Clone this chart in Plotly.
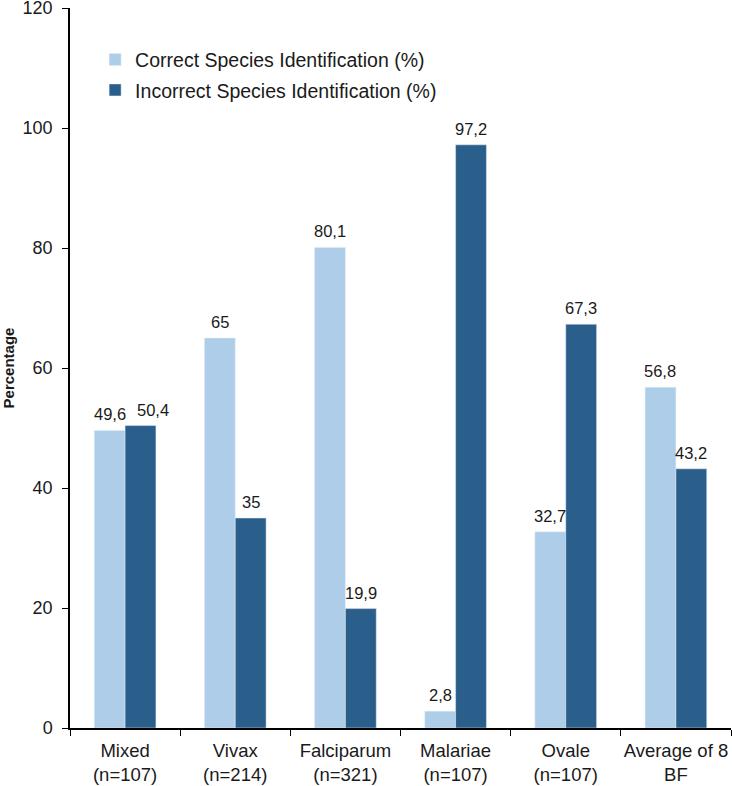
import plotly.graph_objects as go

# data
categories = ['Mixed<br>(n=107)', 'Vivax<br>(n=214)', 'Falciparum<br>(n=321)',
              'Malariae<br>(n=107)', 'Ovale<br>(n=107)', 'Average of 8<br>BF']
correct = [49.6, 65, 80.1, 2.8, 32.7, 56.8]
incorrect = [50.4, 35, 19.9, 97.2, 67.3, 43.2]
y_ticks = [0, 20, 40, 60, 80, 100, 120]


def comma_label(v):
    # decimal comma like the original
    return ('%g' % v).replace('.', ',')


font_family = 'Arial, Liberation Sans, sans-serif'
W, H = 732, 786
ML, MR, MT, MB = 70, 1, 8, 58
BARGAP = 0.44
bar_px = (W - ML - MR) / len(categories) * (1 - BARGAP) / 2

fig = go.Figure()
fig.add_trace(go.Bar(x=categories, y=correct, name='Correct Species Identification (%)',
                     legendgroup='a', marker_color='#aecde9'))
fig.add_trace(go.Bar(x=categories, y=incorrect, name='Incorrect Species Identification (%)',
                     legendgroup='b', marker_color='#2a5f8b'))

# value labels above the bars (the 50,4 one is nudged right in the original)
for side, vals in ((-1, correct), (1, incorrect)):
    for i, (cat, v) in enumerate(zip(categories, vals)):
        nudge = 12 if (side == 1 and i == 0) else 0
        fig.add_annotation(x=cat, y=v, text=comma_label(v), showarrow=False,
                           xshift=side * bar_px / 2 + nudge, yshift=5, yanchor='bottom',
                           font=dict(size=16.5, color='#1a1a1a', family=font_family))

fig.update_layout(
    width=W, height=H,
    margin=dict(l=ML, r=MR, t=MT, b=MB),
    plot_bgcolor='white', paper_bgcolor='white',
    font=dict(family=font_family, size=18, color='#1a1a1a'),
    barmode='group', bargap=BARGAP, bargroupgap=0,
    legend=dict(x=0.038, y=0.955, xanchor='left', yanchor='top', traceorder='grouped',
                tracegroupgap=2, font=dict(size=19.5), bgcolor='rgba(0,0,0,0)', itemwidth=30),
)
fig.update_yaxes(range=[0, 120], tickvals=y_ticks, showline=True, linecolor='black', linewidth=1.5,
                 ticks='outside', ticklen=6, tickcolor='black', showgrid=False, zeroline=False,
                 tickfont=dict(size=18), ticklabelstandoff=6, automargin=False,
                 ticklabeloverflow='allow',
                 title=dict(text='<b>Percentage</b>', font=dict(size=15), standoff=8))
fig.update_xaxes(showline=True, linecolor='black', linewidth=1.5, ticks='outside', ticklen=6,
                 tickcolor='black', tickson='boundaries', showgrid=False, automargin=False,
                 tickangle=0, tickfont=dict(size=18.5), ticklabelstandoff=5)

fig.write_html("out.html", config={'displayModeBar': False},
               post_script="document.body.style.margin='0';")
